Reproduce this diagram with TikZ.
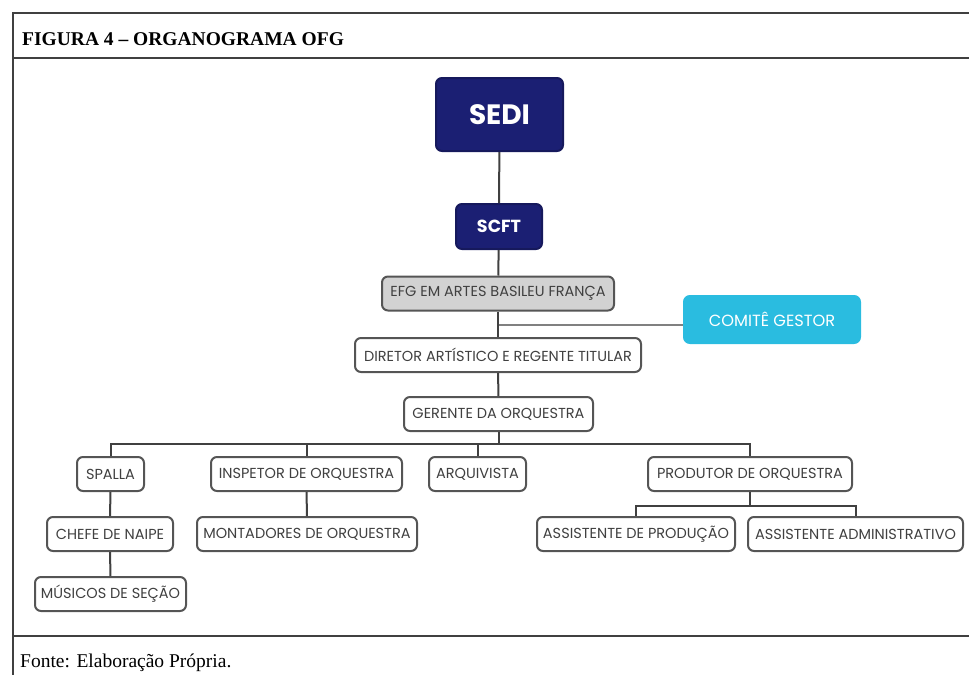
\documentclass[tikz,border=0pt]{standalone}
\usepackage{fontspec}
\setmainfont{Liberation Serif}
\newfontfamily\boxfont{Poppins}
\usetikzlibrary{positioning}

\definecolor{navy}{HTML}{1B1F73}
\definecolor{cyanbox}{HTML}{2ABCE0}
\definecolor{greybox}{HTML}{D2D2D2}
\definecolor{edgegrey}{HTML}{555555}

\begin{document}
\begin{tikzpicture}[x=1pt,y=-1pt]
    % settings for this picture
    \tikzset{
      every node/.style={inner sep=0pt},
      unit/.style={draw=edgegrey, line width=2pt, rounded corners=6pt, fill=white,
        text=black!75, font=\boxfont\fontsize{14.5}{16}\selectfont, minimum height=34pt},
      topunit/.style={unit, draw=navy!80!black, fill=navy, text=white},
      link/.style={draw=black!75, line width=2pt},
      frame/.style={draw=black!75, line width=2pt},
    }
    \useasboundingbox (0,0) rectangle (969,675);

    % frame and texts
    \draw[frame] (969,13) -- (13,13) -- (13,675);
    \draw[frame] (13,58) -- (969,58);
    \draw[frame] (13,636) -- (969,636);
    \node[anchor=base west, font=\bfseries\fontsize{19.5}{22}\selectfont] (title) at (22,45) {FIGURA 4 – ORGANOGRAMA OFG};
    \node[anchor=base west, font=\fontsize{19.5}{22}\selectfont] (source) at (20,667) {Fonte: Elaboração Própria.};

    % units
    \node[topunit, minimum width=127pt, minimum height=73pt, font=\boxfont\bfseries\fontsize{28}{30}\selectfont] (sedi) at (499.5,114.5) {SEDI};
    \node[topunit, minimum width=86pt, minimum height=45pt, font=\boxfont\bfseries\fontsize{17.5}{20}\selectfont] (scft) at (499,226.5) {SCFT};
    \node[unit, fill=greybox, minimum width=232pt] (efg) at (498,293.5) {EFG EM ARTES BASILEU FRANÇA};
    \node[unit, draw=cyanbox, fill=cyanbox, text=white, minimum width=176pt, minimum height=47pt,
      font=\boxfont\fontsize{16.2}{18}\selectfont] (comite) at (772,319.5) {COMITÊ GESTOR};
    \node[unit, minimum width=286pt] (diretor) at (498,355) {DIRETOR ARTÍSTICO E REGENTE TITULAR};
    \node[unit, minimum width=189pt] (gerente) at (498.5,414) {GERENTE DA ORQUESTRA};
    \node[unit, minimum width=67pt] (spalla) at (110.5,474) {SPALLA};
    \node[unit, minimum width=191pt] (inspetor) at (306.5,474) {INSPETOR DE ORQUESTRA};
    \node[unit, minimum width=97pt] (arquivista) at (477.5,474) {ARQUIVISTA};
    \node[unit, minimum width=204pt] (produtor) at (750,474) {PRODUTOR DE ORQUESTRA};
    \node[unit, minimum width=126pt] (chefe) at (110,534) {CHEFE DE NAIPE};
    \node[unit, minimum width=220pt] (montadores) at (307,534) {MONTADORES DE ORQUESTRA};
    \node[unit, minimum width=151pt] (musicos) at (110.5,594) {MÚSICOS DE SEÇÃO};
    \node[unit, minimum width=198pt] (assprod) at (636,534) {ASSISTENTE DE PRODUÇÃO};
    \node[unit, minimum width=215pt] (assadm) at (855.5,534) {ASSISTENTE ADMINISTRATIVO};

    % links
    \coordinate (tap) at (499,325);
    \draw[link] (sedi) -- (scft);
    \draw[link] (scft) -- (efg);
    \draw[link] (efg) -- (diretor);
    \draw[draw=black!50, line width=1.3pt] (tap) -- (comite.west |- tap);
    \draw[link] (diretor) -- (gerente);
    \draw[link] (gerente.south) -- ++(0,12) -| (spalla.north);
    \draw[link] (gerente.south) -- ++(0,12) -| (inspetor.north);
    \draw[link] (gerente.south) -- ++(0,12) -| (arquivista.north);
    \draw[link] (gerente.south) -- ++(0,12) -| (produtor.north);
    \draw[link] (spalla) -- (chefe);
    \draw[link] (chefe) -- (musicos);
    \draw[link] (inspetor) -- (montadores);
    \draw[link] (produtor.south) -- ++(0,14) -| (assprod.north);
    \draw[link] (produtor.south) -- ++(0,14) -| (assadm.north);

\end{tikzpicture}
\end{document}
